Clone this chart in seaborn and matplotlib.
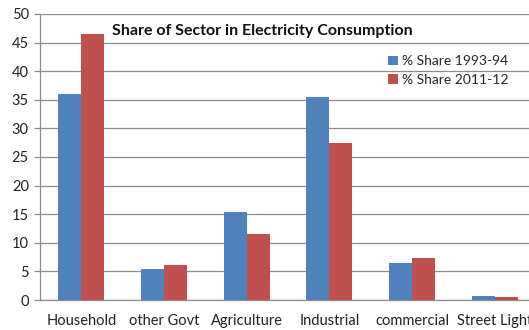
import pandas as pd
import seaborn as sns
import matplotlib.pyplot as plt

# Data
sectors = ["Household", "other Govt", "Agriculture", "Industrial", "commercial", "Street Light"]
share_1993 = [36.0, 5.5, 15.3, 35.5, 6.5, 0.65]
share_2011 = [46.5, 6.1, 11.5, 27.5, 7.3, 0.5]
series_names = ["% Share 1993-94", "% Share 2011-12"]

data = pd.DataFrame({
    "Sector": sectors * 2,
    "Share": share_1993 + share_2011,
    "Series": [series_names[0]] * len(sectors) + [series_names[1]] * len(sectors),
})

sns.set_theme(style="white")
plt.rcParams["font.family"] = ["Lato", "DejaVu Sans"]

fig = plt.figure(figsize=(5.29, 3.30), dpi=100)
ax = fig.add_axes([0.0756, 0.0909, 0.9376, 0.8667])

sns.barplot(data=data, x="Sector", y="Share", hue="Series",
            palette=["#4F81BD", "#C0504D"], width=0.56, saturation=1,
            linewidth=0, ax=ax, zorder=3)

ax.set_xlim(-0.5, 5.5)
ax.set_ylim(0, 50)
ax.set_yticks(range(0, 51, 5))
ax.yaxis.grid(True, color="#8c8c8c", linewidth=0.9, zorder=0)
ax.set_xlabel("")
ax.set_ylabel("")

for side in ["top", "right"]:
    ax.spines[side].set_visible(False)
for side in ["left", "bottom"]:
    ax.spines[side].set_color("#8c8c8c")
    ax.spines[side].set_linewidth(0.9)

# category separators as tick marks
ax.set_xticks([i + 0.5 for i in range(-1, 6)], minor=True)
ax.tick_params(axis="x", which="major", length=0, pad=10, labelsize=10.5, colors="#222222")
ax.tick_params(axis="x", which="minor", length=4, color="#8c8c8c", width=0.9, direction="out")
ax.tick_params(axis="y", length=4, color="#8c8c8c", width=0.9, direction="out",
               left=True, labelsize=10.5, colors="#222222", pad=4)

ax.text(0.145, 0.925, "Share of Sector in Electricity Consumption",
        transform=ax.transAxes, fontsize=11.5, fontweight="bold", color="#111111")

leg = ax.legend(loc="upper left", bbox_to_anchor=(0.69, 0.875), frameon=False,
                fontsize=10, handlelength=0.7, handleheight=0.7, handletextpad=0.3,
                labelspacing=0.45, borderaxespad=0)

fig.savefig("out.png", dpi=100)
